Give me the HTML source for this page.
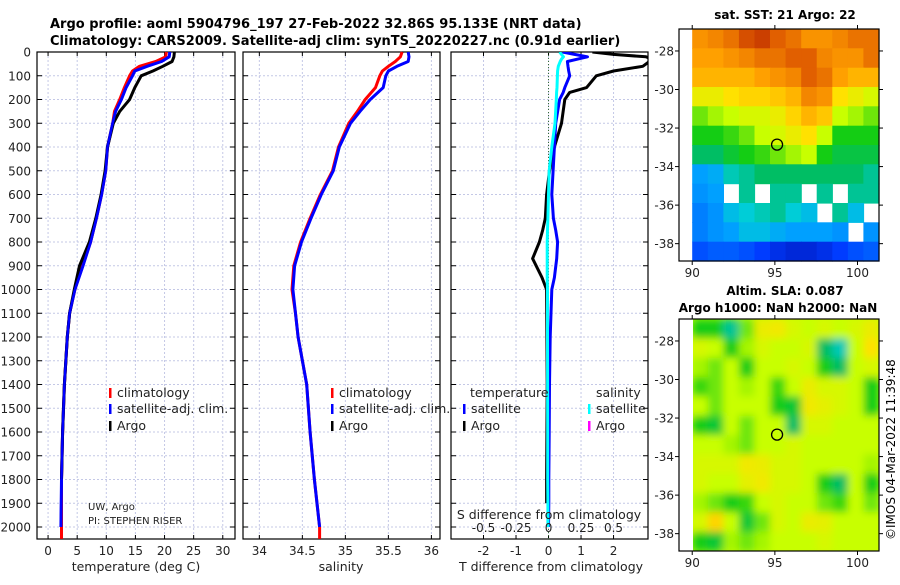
<!DOCTYPE html>
<html><head><meta charset="utf-8"><style>
body{margin:0;background:#fff;width:900px;height:580px;overflow:hidden}
svg{font-family:"DejaVu Sans","Liberation Sans",sans-serif}
</style></head><body>
<svg id="c" width="900" height="580" viewBox="0 0 900 580" xmlns="http://www.w3.org/2000/svg">
<defs>
<filter id="blurSLA" x="-5%" y="-5%" width="110%" height="110%"><feGaussianBlur stdDeviation="4"/></filter>
<clipPath id="clipSLA"><rect x="693" y="319" width="186" height="232"/></clipPath>
</defs>
<text x="50" y="28" font-size="13" font-weight="bold">Argo profile: aoml 5904796_197 27-Feb-2022 32.86S 95.133E (NRT data)</text>
<text x="50" y="45" font-size="13" font-weight="bold">Climatology: CARS2009. Satellite-adj clim: synTS_20220227.nc (0.91d earlier)</text>
<text x="785" y="19" font-size="12" font-weight="bold" text-anchor="middle">sat. SST: 21 Argo: 22</text>
<text x="785" y="295" font-size="12" font-weight="bold" text-anchor="middle">Altim. SLA: 0.087</text>
<text x="778" y="312" font-size="12" font-weight="bold" text-anchor="middle">Argo h1000: NaN h2000: NaN</text>
<text transform="translate(895,540) rotate(-90)" font-size="12">©IMOS 04-Mar-2022 11:39:48</text>
<g id="g"></g>
</svg>
<script>
// ---- profile data ----
const depthT=[0,20,40,60,80,100,150,200,250,300,400,500,600,700,800,900,1000,1100,1200,1400,1600,1800,2000];
const tempClim=[20.3,20.2,18.5,15.7,14.5,14.0,13.1,12.3,11.4,11.1,10.2,9.9,9.2,8.3,7.3,5.9,4.6,3.7,3.3,2.8,2.5,2.3,2.3];
const tempSat=[20.9,20.8,19.5,17.0,14.9,14.5,13.4,12.6,11.6,11.1,10.2,9.9,9.2,8.3,7.3,6.0,4.6,3.7,3.3,2.8,2.5,2.3,2.2];
const tempArgo=[21.7,21.6,21.3,19.7,18.0,16.0,14.9,14.0,12.3,11.2,10.2,9.8,9.1,8.2,7.1,5.4,4.5,3.7,3.3,2.8,2.5,2.3,2.1];
const salClim=[35.66,35.64,35.58,35.5,35.43,35.4,35.35,35.23,35.14,35.04,34.92,34.85,34.71,34.59,34.48,34.4,34.38,34.42,34.45,34.55,34.59,34.64,34.7];
const salSat=[35.73,35.74,35.73,35.6,35.5,35.47,35.44,35.29,35.17,35.06,34.93,34.86,34.72,34.6,34.49,34.41,34.39,34.42,34.45,34.55,34.59,34.64,34.7];
const depthD=[0,10,20,30,40,60,80,100,150,170,200,300,400,500,600,700,750,800,870,950,1000,1200,1400,1600,1800,1900,2000];
const dTargo=[1.35,2.0,3.0,3.2,3.1,2.9,2.0,1.47,1.17,0.65,0.5,0.4,0.18,0.03,-0.06,-0.1,-0.18,-0.28,-0.49,-0.2,-0.06,-0.05,-0.04,-0.05,-0.06,-0.06,null];
const dTsat=[0.43,0.8,1.2,0.9,0.58,0.6,0.62,0.65,0.5,0.45,0.34,0.22,0.18,0.14,0.1,0.15,0.22,0.28,0.25,0.18,0.1,0.05,0.03,0.02,0.01,0.01,0];
const dSsat=[0.085,0.1,0.115,0.1,0.09,0.075,0.07,0.068,0.065,0.062,0.06,0.05,0.025,0.005,0,-0.005,-0.008,-0.01,-0.01,-0.01,-0.008,-0.008,-0.007,-0.006,-0.006,-0.005,-0.005];
const depthTicks=[0,100,200,300,400,500,600,700,800,900,1000,1100,1200,1300,1400,1500,1600,1700,1800,1900,2000];
const tTicks=[0,5,10,15,20,25,30];
const sTicks=[34,34.5,35,35.5,36];
const dTicks=[-2,-1,0,1,2];
const dSTicks=[-0.5,-0.25,0,0.25,0.5];
const dSTickLabels=["-0.5","-0.25","0","0.25","0.5"];
// ---- map data (rows north->south, 1 deg) ----
const sstGrid=[
[0.8,0.82,0.85,0.9,0.92,0.88,0.85,0.8,0.8,0.82,0.85,0.85],
[0.78,0.78,0.8,0.82,0.85,0.85,0.88,0.88,0.82,0.8,0.8,0.85],
[0.75,0.75,0.75,0.75,0.78,0.8,0.82,0.88,0.85,0.78,0.75,0.75],
[0.65,0.65,0.68,0.7,0.7,0.72,0.75,0.82,0.8,0.68,0.65,0.62],
[0.55,0.58,0.6,0.62,0.62,0.65,0.7,0.75,0.72,0.6,0.58,0.55],
[0.5,0.5,0.52,0.55,0.6,0.62,0.65,0.68,0.6,0.5,0.5,0.5],
[0.45,0.45,0.48,0.5,0.52,0.55,0.58,0.6,0.5,0.47,0.47,0.47],
[0.3,0.32,0.4,0.42,0.45,0.45,0.45,0.45,0.45,0.45,0.45,0.42],
[0.28,0.3,null,0.42,null,0.42,0.42,null,0.42,null,0.42,0.42],
[0.25,0.28,0.35,0.38,0.4,0.42,0.38,0.35,null,0.42,0.35,null],
[0.25,0.28,0.3,0.35,0.35,0.32,0.3,0.3,0.3,0.28,null,0.28],
[0.18,0.2,0.2,0.18,0.15,0.12,0.1,0.1,0.12,0.15,0.18,0.2]];
const slaGrid=[
[0.5,0.5,0.42,0.55,0.65,0.66,0.62,0.6,0.62,0.6,0.62,0.65],
[0.62,0.6,0.5,0.58,0.62,0.6,0.6,0.62,0.45,0.4,0.6,0.68],
[0.58,0.55,0.6,0.5,0.6,0.6,0.62,0.6,0.5,0.45,0.6,0.62],
[0.52,0.55,0.6,0.58,0.6,0.52,0.6,0.65,0.62,0.62,0.6,0.5],
[0.6,0.55,0.6,0.6,0.6,0.5,0.48,0.66,0.64,0.62,0.6,0.5],
[0.5,0.48,0.6,0.55,0.6,0.6,0.45,0.62,0.62,0.6,0.6,0.6],
[0.6,0.6,0.58,0.55,0.6,0.6,0.62,0.6,0.6,0.6,0.6,0.6],
[0.62,0.62,0.62,0.66,0.65,0.62,0.62,0.6,0.6,0.6,0.6,0.58],
[0.62,0.6,0.6,0.64,0.66,0.62,0.62,0.6,0.5,0.45,0.6,0.5],
[0.58,0.55,0.5,0.52,0.6,0.62,0.6,0.6,0.55,0.52,0.6,0.55],
[0.62,0.7,0.6,0.48,0.55,0.62,0.6,0.65,0.64,0.6,0.6,0.6],
[0.5,0.48,0.58,0.55,0.58,0.6,0.6,0.6,0.62,0.6,0.6,0.6]];
const latTicks=[-28,-30,-32,-34,-36,-38];
const lonTicks=[90,95,100];
const argoLon=95.133, argoLat=-32.86;

const NS="http://www.w3.org/2000/svg";
const G=document.getElementById('g');
function el(tag,attrs,parent){const e=document.createElementNS(NS,tag);for(const k in attrs)e.setAttribute(k,attrs[k]);(parent||G).appendChild(e);return e;}
const PT=52,PB=539;
const yD=d=>PT+d*0.2375;
const panels=[
 {x0:37,x1:235,v0:-1.9,v1:32.1,name:'temperature'},
 {x0:243,x1:440,v0:33.81,v1:36.1,name:'salinity'},
 {x0:451,x1:648,v0:-3.0,v1:3.06,name:'difference'}];
function xf(p){return v=>p.x0+(v-p.v0)/(p.v1-p.v0)*(p.x1-p.x0);}
const GRID='#c4c8e6';
panels.forEach((p,i)=>{
 const X=xf(p);
 const ticks=i==0?tTicks:i==1?sTicks:dTicks;
 ticks.forEach(t=>{const l=el('line',{x1:X(t),x2:X(t),y1:PT,y2:PB,stroke:GRID,'stroke-dasharray':'2,2','stroke-width':1});
  
  const tx=el('text',{x:X(t),y:555,'font-size':12,'text-anchor':'middle',fill:'#222'});tx.textContent=String(t);
  
  el('line',{x1:X(t),x2:X(t),y1:PB,y2:PB-4,stroke:'#000'});el('line',{x1:X(t),x2:X(t),y1:PT,y2:PT+4,stroke:'#000'});});
 depthTicks.forEach(d=>{const l=el('line',{x1:p.x0,x2:p.x1,y1:yD(d),y2:yD(d),stroke:GRID,'stroke-dasharray':'2,2'});
  
  el('line',{x1:p.x0,x2:p.x0+5,y1:yD(d),y2:yD(d),stroke:'#000'});el('line',{x1:p.x1-5,x2:p.x1,y1:yD(d),y2:yD(d),stroke:'#000'});});
 const r=el('rect',{x:p.x0,y:PT,width:p.x1-p.x0,height:PB-PT,fill:'none',stroke:'#000','stroke-width':1.2});
 
});
depthTicks.forEach(d=>{const t=el('text',{x:31,y:yD(d)+4.5,'font-size':12,'text-anchor':'end',fill:'#222'});t.textContent=String(d);
 });
function line(p,depths,vals,color,name,scale){
 const X=xf(p);let d='';let started=false;
 vals.forEach((v,k)=>{if(v===null){started=false;return;}const vx=Math.min(Math.max(X(v*(scale||1)),p.x0),p.x1+8);
  d+=(started?'L':'M')+vx.toFixed(1)+','+yD(depths[k]).toFixed(1);started=true;});
 const e=el('path',{d:d,fill:'none',stroke:color,'stroke-width':3,'stroke-linejoin':'round'});
 return e;}
const cp=el('clipPath',{id:'cp3'});el('rect',{x:451,y:PT,width:197,height:PB-PT},cp);
line(panels[0],[...depthT,2050],[...tempClim,2.3],'#f00','temp-climatology-line');
line(panels[0],depthT,tempSat,'#00f','temp-satellite-line');
line(panels[0],depthT.slice(0,22),tempArgo.slice(0,22),'#000','temp-argo-line');
line(panels[0],depthT,tempSat,'#00f','temp-satellite-line-top').setAttribute('stroke-width',2.5);
line(panels[1],[...depthT,2050],[...salClim,34.7],'#f00','sal-climatology-line');
line(panels[1],depthT,salSat,'#00f','sal-satellite-line');
const zx=xf(panels[2])(0);
const zl=el('line',{x1:zx,x2:zx,y1:PT,y2:PB,stroke:'#336633','stroke-dasharray':'1,2'});

line(panels[2],depthD,dTargo,'#000','tdiff-argo-line').setAttribute('clip-path','url(#cp3)');
line(panels[2],depthD,dTsat,'#00f','tdiff-satellite-line').setAttribute('clip-path','url(#cp3)');
line(panels[2],depthD,dSsat,'#0ff','sdiff-satellite-line',4).setAttribute('clip-path','url(#cp3)');
const X3=xf(panels[2]);
dSTicks.forEach((s,k)=>{const t=el('text',{x:X3(s*4),y:532,'font-size':12,'text-anchor':'middle',fill:'#222'});t.textContent=dSTickLabels[k];
 });
function txt(x,y,s,size,name,anchor){const t=el('text',{x:x,y:y,'font-size':size,'text-anchor':anchor||'start',fill:'#222'});t.textContent=s;
 return t;}
txt(549,519,'S difference from climatology',12.5,'s-diff-axis-title','middle');
txt(136,571,'temperature (deg C)',12.5,'x-axis-title-temperature','middle');
txt(341,571,'salinity',12.5,'x-axis-title-salinity','middle');
txt(551,571,'T difference from climatology',12.5,'x-axis-title-tdiff','middle');
txt(88,510,'UW, Argo',10,'institution-label');
txt(88,524,'PI: STEPHEN RISER',10,'pi-label');
function leg(x,y,color,label,name){const b=el('rect',{x:x,y:y-9,width:2.5,height:10,fill:color});
 txt(x+8,y,label,12.5,name);}
leg(109,397,'#f00','climatology','legend-t-climatology');leg(109,413,'#00f','satellite-adj. clim.','legend-t-satellite');leg(109,430,'#000','Argo','legend-t-argo');
leg(331,397,'#f00','climatology','legend-s-climatology');leg(331,413,'#00f','satellite-adj. clim.','legend-s-satellite');leg(331,430,'#000','Argo','legend-s-argo');
txt(470,397,'temperature',12.5,'legend-tdiff-header');txt(596,397,'salinity',12.5,'legend-sdiff-header');
leg(463,413,'#00f','satellite','legend-tdiff-satellite');leg(463,430,'#000','Argo','legend-tdiff-argo');
leg(588,413,'#0ff','satellite','legend-sdiff-satellite');leg(588,430,'#f0f','Argo','legend-sdiff-argo');
// ---- maps ----
const stops=[[0,[0,0,140]],[0.15,[0,60,255]],[0.3,[0,160,255]],[0.38,[0,205,215]],[0.45,[0,190,100]],[0.5,[20,205,20]],[0.6,[200,255,0]],[0.68,[255,225,0]],[0.78,[255,160,0]],[0.88,[225,95,0]],[1,[160,0,0]]];
function cmap(v){for(let i=1;i<stops.length;i++){if(v<=stops[i][0]){const a=stops[i-1],b=stops[i],f=(v-a[0])/(b[0]-a[0]);
 return 'rgb('+a[1].map((c,j)=>Math.round(c+(b[1][j]-c)*f)).join(',')+')';}}return 'rgb(160,0,0)';}
function drawMap(grid,y0,y1,latTop,latBot,name,blur){
 const x0=679,x1=879,lon0=89.2,lon1=101.3;
 const LX=v=>x0+(v-lon0)/(lon1-lon0)*(x1-x0), LY=v=>y0+(latTop-v)/(latTop-latBot)*(y1-y0);
 const outer=el('g',{});
 if(blur){outer.setAttribute('clip-path','url(#clipSLA)');
  el('rect',{x:LX(90),y:y0,width:x1-LX(90),height:y1-y0,fill:cmap(0.6)},outer);}
 const g=el('g',blur?{filter:'url(#blurSLA)'}:{},outer);
 const nr=grid.length,nc=grid[0].length,cw=(101.3-90)/nc,ch=(latTop-latBot)/nr;
 grid.forEach((row,r)=>row.forEach((v,c)=>{if(v===null)return;
  const xa=LX(90+c*cw),xb=LX(90+(c+1)*cw),ya=LY(latTop-r*ch),yb=LY(latTop-(r+1)*ch);
  const cell=el('rect',{x:xa.toFixed(1),y:ya.toFixed(1),width:(xb-xa+0.6).toFixed(1),height:(yb-ya+0.6).toFixed(1),fill:cmap(v)},g);
  }));
 const f=el('rect',{x:x0,y:y0,width:x1-x0,height:y1-y0,fill:'none',stroke:'#000','stroke-width':1.2});
 
 latTicks.forEach(t=>{el('line',{x1:x0,x2:x0-4,y1:LY(t),y2:LY(t),stroke:'#000'});el('line',{x1:x1,x2:x1+4,y1:LY(t),y2:LY(t),stroke:'#000'});
  txt(x0-5,LY(t)+4.5,String(t),12,'lat-tick-label','end');});
 lonTicks.forEach(t=>{el('line',{x1:LX(t),x2:LX(t),y1:y1,y2:y1+4,stroke:'#000'});el('line',{x1:LX(t),x2:LX(t),y1:y0,y2:y0-4,stroke:'#000'});
  txt(LX(t),y1+16,String(t),12,'lon-tick-label','middle');});
 const c=el('ellipse',{cx:LX(argoLon),cy:LY(argoLat),rx:5.5,ry:5.5,fill:'none',stroke:'#000','stroke-width':1.3});
 
}
drawMap(sstGrid,29,261,-26.86,-38.9,'sst-map',false);
drawMap(slaGrid,319,551,-26.86,-38.9,'sla-map',true);
</script>
</body></html>
